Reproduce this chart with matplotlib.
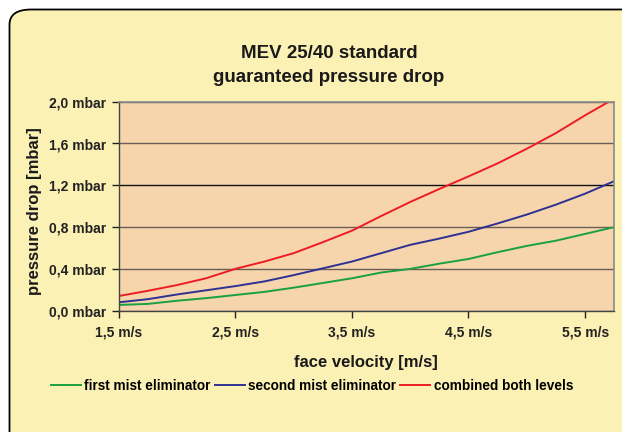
import matplotlib
matplotlib.use("Agg")
import matplotlib.pyplot as plt
from matplotlib.patches import FancyBboxPatch
from matplotlib.ticker import FuncFormatter

plt.rcParams['font.family'] = ['Liberation Sans Narrow', 'Liberation Sans', 'DejaVu Sans']
plt.rcParams['font.weight'] = 'bold'

# face velocity [m/s]
velocity = [1.5, 1.75, 2.0, 2.25, 2.5, 2.75, 3.0, 3.25, 3.5, 3.75,
            4.0, 4.25, 4.5, 4.75, 5.0, 5.25, 5.5, 5.75]
# pressure drop [mbar]
first_me = [0.055, 0.065, 0.095, 0.12, 0.15, 0.18, 0.22, 0.265, 0.31, 0.365,
            0.40, 0.45, 0.495, 0.56, 0.62, 0.67, 0.735, 0.80]
second_me = [0.08, 0.11, 0.155, 0.195, 0.235, 0.28, 0.34, 0.405, 0.47, 0.55,
             0.63, 0.69, 0.755, 0.835, 0.92, 1.015, 1.12, 1.24]
combined = [0.14, 0.19, 0.245, 0.31, 0.40, 0.47, 0.55, 0.655, 0.765, 0.905,
            1.04, 1.165, 1.285, 1.41, 1.55, 1.70, 1.87, 2.03]

labels = ['first mist eliminator', 'second mist eliminator', 'combined both levels']
colors = ['#1aa040', '#2e3192', '#ed1c24']
xticks = [1.5, 2.5, 3.5, 4.5, 5.5]
yticks = [0.0, 0.4, 0.8, 1.2, 1.6, 2.0]

W, H = 622, 432
fig = plt.figure(figsize=(W / 100, H / 100), dpi=100)
fig.patch.set_facecolor('white')

# rounded yellow chart area
bg = FancyBboxPatch((9.5 / W, -0.1), (W + 20) / W, (H - 9.5) / H + 0.1,
                    boxstyle="round,pad=0,rounding_size=0.035",
                    transform=fig.transFigure, facecolor='#fcf1b4',
                    edgecolor='black', linewidth=1.3, zorder=-5)
fig.patches.append(bg)

ax = fig.add_axes([118.5 / W, (H - 310.7) / H, (614.3 - 118.5) / W, (310.7 - 101.7) / H])
ax.set_zorder(2)
ax.set_facecolor('#f6d5ad')

for y, lab, c in zip([first_me, second_me, combined], labels, colors):
    ax.plot(velocity, y, color=c, linewidth=1.4, label=lab, clip_on=True)

ax.set_xlim(1.5, 5.75)
ax.set_ylim(0, 2.0)
ax.set_xticks(xticks)
ax.set_yticks(yticks)
ax.xaxis.set_major_formatter(FuncFormatter(lambda v, p: ('%.1f m/s' % v).replace('.', ',')))
ax.yaxis.set_major_formatter(FuncFormatter(lambda v, p: ('%.1f mbar' % v).replace('.', ',')))
ax.tick_params(axis='x', direction='out', length=5, width=1, pad=6, labelsize=10, colors='#222222')
ax.tick_params(axis='y', direction='out', length=5, width=1, pad=4, labelsize=10, colors='#222222')
ax.grid(axis='y', color='#6a5e54', linewidth=1.0)
ax.yaxis.get_gridlines()[3].set_color('#111111')
ax.set_axisbelow(True)
for side in ['top', 'right']:
    ax.spines[side].set_color('#8a8a8a')
    ax.spines[side].set_linewidth(1.2)
for side in ['left', 'bottom']:
    ax.spines[side].set_color('#444444')
    ax.spines[side].set_linewidth(1.0)

fig.text(329 / W, 1 - 54 / H, 'MEV 25/40 standard', ha='center', va='center',
         fontsize=13.5, fontweight='bold', color='#1a1a1a')
fig.text(329 / W, 1 - 78 / H, 'guaranteed pressure drop', ha='center', va='center',
         fontsize=13.5, fontweight='bold', color='#1a1a1a')
fig.text(366 / W, 1 - 362 / H, 'face velocity [m/s]', ha='center', va='center',
         fontsize=12, fontweight='bold', color='#1a1a1a')
fig.text(35 / W, 1 - 211 / H, 'pressure drop [mbar]', ha='center', va='center',
         rotation=90, fontsize=12, fontweight='bold', color='#1a1a1a')

fig.legend(loc='center', bbox_to_anchor=(312 / W, 1 - 386 / H), ncol=3, frameon=False,
           fontsize=9.8, handlelength=2.2, handletextpad=0.25, columnspacing=0.3,
           borderaxespad=0)

fig.savefig('out.png', dpi=100, facecolor=fig.get_facecolor())
